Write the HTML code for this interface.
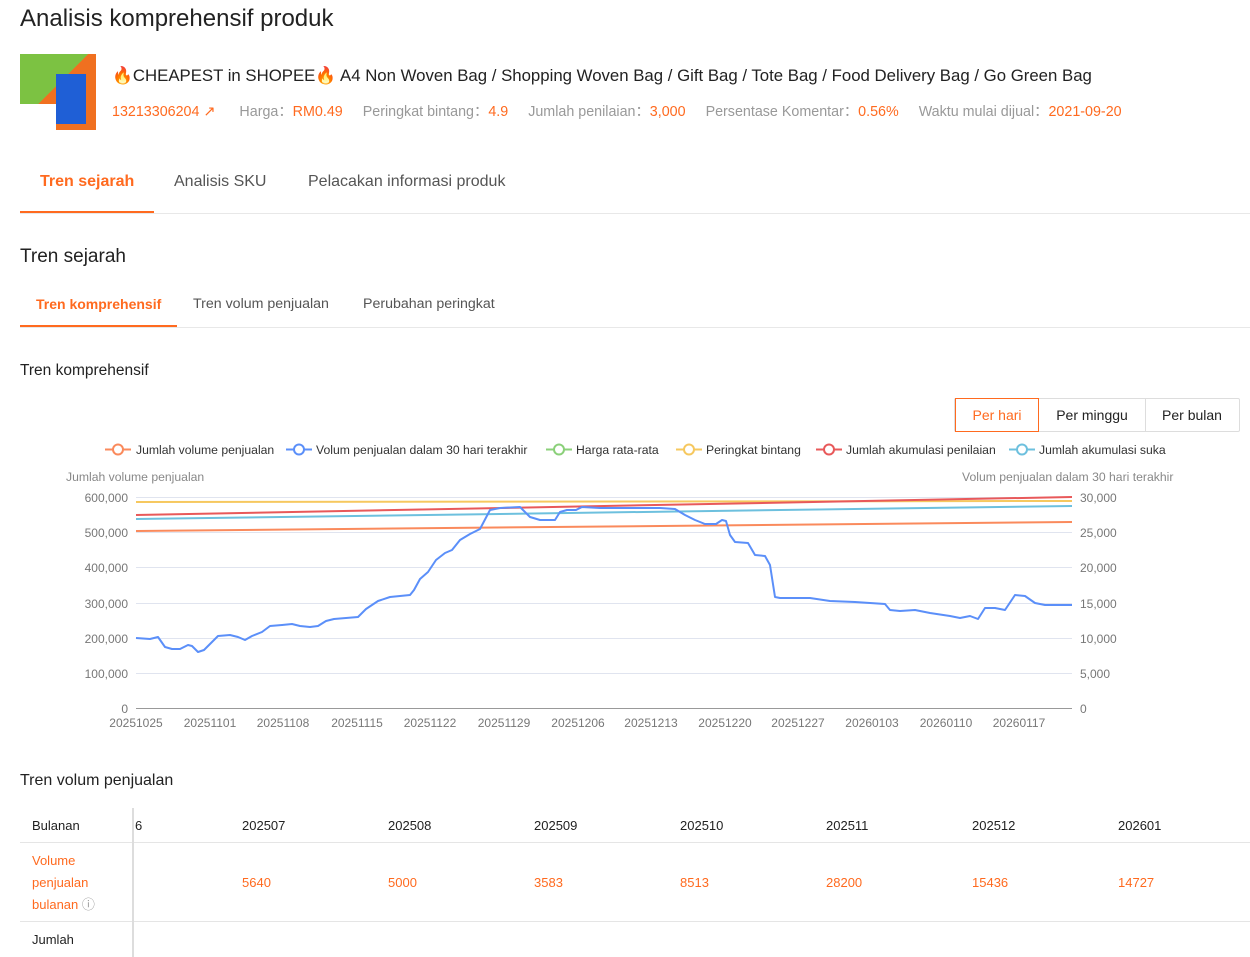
<!DOCTYPE html>
<html><head><meta charset="utf-8"><style>
body{margin:0;width:1250px;height:957px;overflow:hidden;background:#fff;font-family:"Liberation Sans",sans-serif;color:#222;position:relative}
.a{position:absolute;white-space:nowrap}
.or{color:#ff6a1f}
.g{color:#999}
</style></head><body>
<div class="a" style="left:20px;top:5px;font-size:24px;font-weight:500">Analisis komprehensif produk</div>
<div class="a" style="left:20px;top:54px;width:76px;height:76px;background:linear-gradient(135deg,#7cc242 0 45%,#f07020 45%);"><div style="position:absolute;left:36px;top:20px;width:30px;height:50px;background:#1f5fd6"></div><div style="position:absolute;left:0;top:50px;width:36px;height:26px;background:#fff"></div></div>
<div class="a" style="left:112px;top:66px;font-size:16.8px">🔥CHEAPEST in SHOPEE🔥 A4 Non Woven Bag / Shopping Woven Bag / Gift Bag / Tote Bag / Food Delivery Bag / Go Green Bag</div>
<div class="a" style="left:112px;top:100px;font-size:14.3px"><span class="or">13213306204 ↗</span><span class="g" style="margin-left:24px">Harga：</span><span class="or">RM0.49</span><span class="g" style="margin-left:20px">Peringkat bintang：</span><span class="or">4.9</span><span class="g" style="margin-left:20px">Jumlah penilaian：</span><span class="or">3,000</span><span class="g" style="margin-left:20px">Persentase Komentar：</span><span class="or">0.56%</span><span class="g" style="margin-left:20px">Waktu mulai dijual：</span><span class="or">2021-09-20</span></div>
<div class="a or" style="left:40px;top:173px;font-size:16px;font-weight:bold">Tren sejarah</div>
<div class="a" style="left:174px;top:173px;font-size:16px;color:#555">Analisis SKU</div>
<div class="a" style="left:308px;top:173px;font-size:16px;color:#555">Pelacakan informasi produk</div>
<div class="a" style="left:20px;top:211px;width:134px;height:3px;background:#ff6a1f"></div>
<div class="a" style="left:20px;top:213px;width:1230px;height:1px;background:#e8e8e8"></div>
<div class="a" style="left:20px;top:246px;font-size:19px;font-weight:500">Tren sejarah</div>
<div class="a or" style="left:36px;top:296px;font-size:14px;font-weight:bold">Tren komprehensif</div>
<div class="a" style="left:193px;top:296px;font-size:14.2px;color:#555">Tren volum penjualan</div>
<div class="a" style="left:363px;top:296px;font-size:14.2px;color:#555">Perubahan peringkat</div>
<div class="a" style="left:20px;top:325px;width:157px;height:3px;background:#ff6a1f"></div>
<div class="a" style="left:20px;top:327px;width:1230px;height:1px;background:#e8e8e8"></div>
<div class="a" style="left:20px;top:362px;font-size:15.5px;font-weight:500">Tren komprehensif</div>
<div class="a" style="left:954px;top:398px;width:284px;height:32px;border:1px solid #ddd;border-radius:2px;font-size:14px">
<div class="a or" style="left:0;top:-1px;width:82px;height:32px;border:1px solid #ff6a1f;text-align:center;line-height:32px">Per hari</div>
<div class="a" style="left:84px;top:0;width:106px;height:32px;border-right:1px solid #ddd;text-align:center;line-height:32px">Per minggu</div>
<div class="a" style="left:190px;top:0;width:94px;height:32px;text-align:center;line-height:32px">Per bulan</div></div>
<svg class="a" style="left:0;top:430px" width="1250" height="310" font-family="Liberation Sans" font-size="12">
<g fill="#fff" stroke-width="2">
<line x1="105" y1="19.5" x2="131" y2="19.5" stroke="#fa8a5c"/><circle cx="118" cy="19.5" r="5" stroke="#fa8a5c"/>
<line x1="286" y1="19.5" x2="312" y2="19.5" stroke="#5b8ff9"/><circle cx="299" cy="19.5" r="5" stroke="#5b8ff9"/>
<line x1="546" y1="19.5" x2="572" y2="19.5" stroke="#8bd07a"/><circle cx="559" cy="19.5" r="5" stroke="#8bd07a"/>
<line x1="676" y1="19.5" x2="702" y2="19.5" stroke="#f6c85f"/><circle cx="689" cy="19.5" r="5" stroke="#f6c85f"/>
<line x1="816" y1="19.5" x2="842" y2="19.5" stroke="#e8595a"/><circle cx="829" cy="19.5" r="5" stroke="#e8595a"/>
<line x1="1009" y1="19.5" x2="1035" y2="19.5" stroke="#6dc0de"/><circle cx="1022" cy="19.5" r="5" stroke="#6dc0de"/>
</g>
<g fill="#333" font-size="12.2"><text x="136" y="24">Jumlah volume penjualan</text><text x="316" y="24">Volum penjualan dalam 30 hari terakhir</text><text x="576" y="24">Harga rata-rata</text><text x="706" y="24">Peringkat bintang</text><text x="846" y="24">Jumlah akumulasi penilaian</text><text x="1039" y="24">Jumlah akumulasi suka</text></g>
<g fill="#888" font-size="12.2"><text x="66" y="51">Jumlah volume penjualan</text><text x="962" y="51">Volum penjualan dalam 30 hari terakhir</text></g>
<g stroke="#e0e4ef" stroke-width="1">
<line x1="136" x2="1072" y1="67.5" y2="67.5"/><line x1="136" x2="1072" y1="102.5" y2="102.5"/><line x1="136" x2="1072" y1="137.5" y2="137.5"/><line x1="136" x2="1072" y1="173.5" y2="173.5"/><line x1="136" x2="1072" y1="208.5" y2="208.5"/><line x1="136" x2="1072" y1="243.5" y2="243.5"/></g>
<line x1="136" x2="1072" y1="278.5" y2="278.5" stroke="#999"/>
<g fill="#777" text-anchor="end"><text x="128" y="72">600,000</text><text x="128" y="107">500,000</text><text x="128" y="142">400,000</text><text x="128" y="178">300,000</text><text x="128" y="213">200,000</text><text x="128" y="248">100,000</text><text x="128" y="283">0</text></g>
<g fill="#777"><text x="1080" y="72">30,000</text><text x="1080" y="107">25,000</text><text x="1080" y="142">20,000</text><text x="1080" y="178">15,000</text><text x="1080" y="213">10,000</text><text x="1080" y="248">5,000</text><text x="1080" y="283">0</text></g>
<g fill="#777" text-anchor="middle"><text x="136" y="297">20251025</text><text x="210" y="297">20251101</text><text x="283" y="297">20251108</text><text x="357" y="297">20251115</text><text x="430" y="297">20251122</text><text x="504" y="297">20251129</text><text x="578" y="297">20251206</text><text x="651" y="297">20251213</text><text x="725" y="297">20251220</text><text x="798" y="297">20251227</text><text x="872" y="297">20260103</text><text x="946" y="297">20260110</text><text x="1019" y="297">20260117</text></g>
<g stroke-width="2" fill="none">
<line x1="136" x2="1072" y1="72" y2="71" stroke="#f6c85f"/>
<line x1="136" x2="1072" y1="85" y2="67" stroke="#e8595a"/>
<line x1="136" x2="1072" y1="89" y2="76" stroke="#6dc0de"/>
<line x1="136" x2="1072" y1="101" y2="92" stroke="#fa8a5c"/>
<polyline stroke="#5b8ff9" stroke-linejoin="round" transform="translate(0,-430)" points="136,638 150,639 158,637 165,647 172,649 180,649 188,645 192,646 198,652 204,650 212,642 218,636 230,635 238,637 245,640 252,636 262,632 270,626 282,625 292,624 300,626 310,627 318,626 326,621 334,619 358,617 366,609 378,601 390,597 410,595 414,590 420,579 428,572 436,560 445,553 452,550 460,540 470,534 480,529 490,510 500,508 520,507 530,517 540,520 555,520 560,512 567,510 576,510 582,507 600,508 660,508 675,509 685,515 695,520 705,524 716,524 722,520 726,521 730,535 735,542 748,543 755,555 765,556 770,565 775,597 780,598 810,598 830,601 855,602 870,603 885,604 890,610 900,611 915,610 930,613 950,616 960,618 970,616 978,619 985,608 995,608 1005,610 1015,595 1025,596 1035,603 1045,605 1072,605"/>
</g></svg>
<div class="a" style="left:20px;top:772px;font-size:16px;font-weight:500">Tren volum penjualan</div>
<div class="a" style="left:20px;top:842px;width:1230px;height:1px;background:#e5e5e5"></div>
<div class="a" style="left:20px;top:921px;width:1230px;height:1px;background:#e5e5e5"></div>
<div class="a" style="left:132px;top:808px;width:2px;height:149px;background:#ddd"></div>
<div style="font-size:13px">
<div class="a" style="left:32px;top:818px">Bulanan</div>
<div class="a" style="left:135px;top:818px">6</div>
<div class="a" style="left:242px;top:818px">202507</div><div class="a" style="left:388px;top:818px">202508</div><div class="a" style="left:534px;top:818px">202509</div><div class="a" style="left:680px;top:818px">202510</div><div class="a" style="left:826px;top:818px">202511</div><div class="a" style="left:972px;top:818px">202512</div><div class="a" style="left:1118px;top:818px">202601</div>
<div class="a or" style="left:32px;top:850px;line-height:22px;white-space:normal;width:90px">Volume penjualan bulanan <span style="color:#999">ⓘ</span></div>
<div class="a or" style="left:242px;top:875px">5640</div><div class="a or" style="left:388px;top:875px">5000</div><div class="a or" style="left:534px;top:875px">3583</div><div class="a or" style="left:680px;top:875px">8513</div><div class="a or" style="left:826px;top:875px">28200</div><div class="a or" style="left:972px;top:875px">15436</div><div class="a or" style="left:1118px;top:875px">14727</div>
<div class="a" style="left:32px;top:932px">Jumlah</div>
</div>
</body></html>
